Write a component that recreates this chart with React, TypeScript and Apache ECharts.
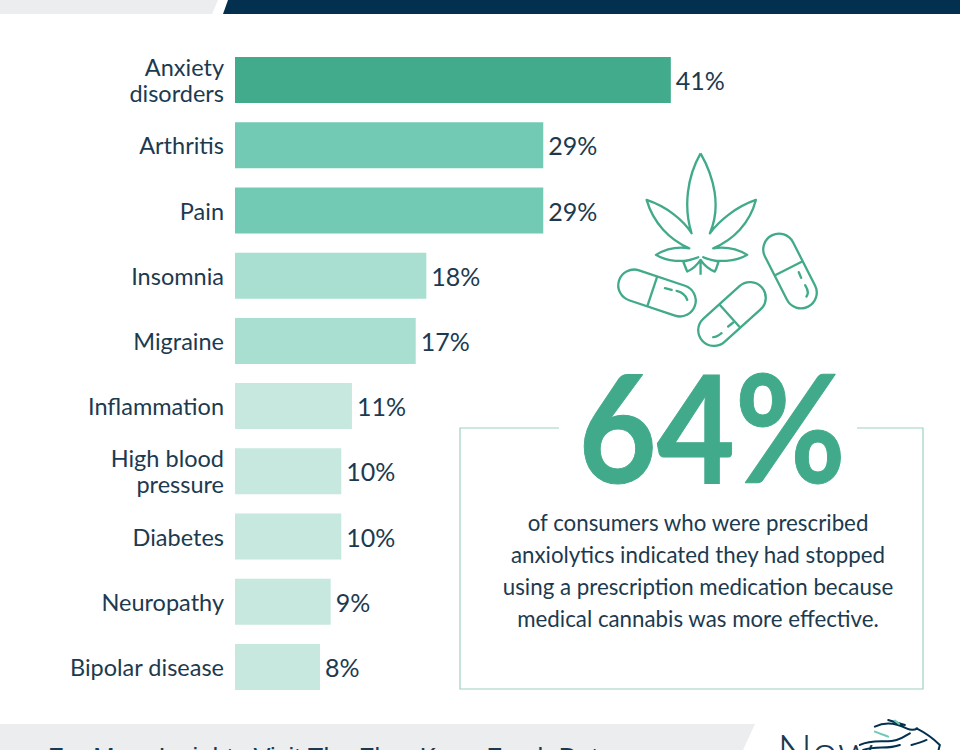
import React, { useEffect, useRef } from "react";
import * as echarts from "echarts";

const categories = ["Anxiety\ndisorders", "Arthritis", "Pain", "Insomnia", "Migraine", "Inflammation", "High blood\npressure", "Diabetes", "Neuropathy", "Bipolar disease"];
const values = [41, 29, 29, 18, 17, 11, 10, 10, 9, 8];
const barColors = ["#41ab8b", "#72c9b4", "#72c9b4", "#a9dfd0", "#a9dfd0", "#c6e8df", "#c6e8df", "#c6e8df", "#c6e8df", "#c6e8df"];
const headline = "64%";
const blurb = ["of consumers who were prescribed", "anxiolytics indicated they had stopped", "using a prescription medication because", "medical cannabis was more effective."];
const footerText = "For More Insights Visit The Flow Kana Fresh Data";
const logoWord = "Now";

const NAVY = "#1c3a4f";
const GREEN = "#41aa8a";
const FONT = "Lato";

const leafD =
  "M302 40 C262 110 250 200 275 280 C250 240 200 200 140 180 C160 250 210 300 268 325 C235 320 200 325 168 345 C200 365 250 370 295 352 C280 358 265 362 250 365 C255 378 258 386 262 395 C278 388 292 375 302 360 L302 405 M302 360 C312 375 326 388 345 395 C350 386 352 378 356 365 C340 362 325 358 310 352 C350 370 410 365 442 345 C410 325 375 320 340 325 C400 300 450 250 468 180 C410 200 360 240 330 280 C365 200 342 110 302 40";
const dashD =
  "M195 445 L215 450 M230 453 C245 457 258 465 262 480 M340 592 C350 592 358 586 365 580 M385 560 L400 548 M597 397 L604 414 M616 436 C625 450 628 460 620 470";
const horseD =
  "M470 55 C490 65 515 80 540 105 L535 125 M345 50 C375 35 410 40 440 55 C455 62 465 60 472 55 M300 105 C340 85 380 100 410 90 C430 85 440 75 450 70 M310 120 C350 105 380 120 420 105 M385 30 C400 35 420 40 435 45 M455 105 C475 100 490 95 500 90";
const horseAccentD = "M345 65 C360 72 375 75 385 80 M405 32 L418 42";
echarts.graphic.registerShape("leafIcon", echarts.graphic.extendPath(leafD, {}));
echarts.graphic.registerShape("dashIcon", echarts.graphic.extendPath(dashD, {}));
echarts.graphic.registerShape("horseIcon", echarts.graphic.extendPath(horseD, {}));
echarts.graphic.registerShape("horseAccent", echarts.graphic.extendPath(horseAccentD, {}));

function pill(cx: number, cy: number, angleDeg: number, dividerOffset: number) {
  const L = 80, W = 31.5;
  return {
    type: "group", x: cx, y: cy, rotation: (angleDeg * Math.PI) / 180,
    children: [
      { type: "rect", shape: { x: -L / 2, y: -W / 2, width: L, height: W, r: W / 2 }, style: { fill: "none", stroke: GREEN, lineWidth: 2.3 } },
      { type: "line", shape: { x1: dividerOffset, y1: -W / 2, x2: dividerOffset, y2: W / 2 }, style: { stroke: GREEN, lineWidth: 2.3 } },
    ],
  };
}

export default function App() {
  const ref = useRef<HTMLDivElement>(null);
  useEffect(() => {
    const chart = echarts.init(ref.current!, null, { renderer: "svg" });
    chart.setOption({
      animation: false,
      backgroundColor: "#ffffff",
      grid: { left: 235, top: 47.5, width: 531.5, height: 652, containLabel: false },
      xAxis: { type: "value", min: 0, max: 50, show: false },
      yAxis: {
        type: "category", inverse: true, data: categories,
        axisLine: { show: false }, axisTick: { show: false },
        axisLabel: { color: NAVY, fontFamily: FONT, fontSize: 23.5, lineHeight: 26, margin: 11, align: "right" },
      },
      series: [{
        type: "bar", barWidth: 46,
        data: values.map((v, i) => ({ value: v, itemStyle: { color: barColors[i] } })),
        label: { show: true, position: "right", distance: 5, formatter: "{c}%", color: NAVY, fontFamily: FONT, fontSize: 25 },
      }],
      graphic: [
        { type: "polygon", shape: { points: [[0, 0], [218, 0], [212, 14], [0, 14]] }, style: { fill: "#ebedee" } },
        { type: "polygon", shape: { points: [[228, 0], [960, 0], [960, 14], [223, 14]] }, style: { fill: "#03304f" } },
        { type: "polygon", shape: { points: [[0, 724], [755, 724], [743, 750], [0, 750]] }, style: { fill: "#ebedee" } },
        { type: "text", x: 48, y: 770, style: { text: footerText, fill: NAVY, fontFamily: "Liberation Sans", fontSize: 25.5, verticalAlign: "bottom" } },
        { type: "polyline", shape: { points: [[559, 428], [460, 428], [460, 689], [923, 689], [923, 428], [857, 428]] }, style: { fill: "none", stroke: "#9fd0c4", lineWidth: 1.2 } },
        { type: "text", x: 712, y: 425, scaleX: 0.9, style: { text: headline, fill: GREEN, stroke: GREEN, lineWidth: 1, lineJoin: "round", fontFamily: FONT, fontWeight: 700, fontSize: 150, align: "center", verticalAlign: "middle" } },
        ...blurb.map((t, i) => ({ type: "text", x: 698, y: 522 + i * 32, style: { text: t, fill: NAVY, fontFamily: FONT, fontSize: 22.3, align: "center", verticalAlign: "middle" } })),
        { type: "leafIcon", x: 600, y: 140, scaleX: 1 / 3, scaleY: 1 / 3, style: { fill: "none", stroke: GREEN, lineWidth: 7, lineJoin: "round" } },
        { type: "dashIcon", x: 600, y: 140, scaleX: 1 / 3, scaleY: 1 / 3, style: { fill: "none", stroke: GREEN, lineWidth: 7, lineCap: "round" } },
        pill(657, 293, -18.5, -5),
        pill(732, 314, 42, -3),
        pill(790, 271, -63, -3),
        { type: "text", x: 777, y: 774, style: { text: logoWord, fill: NAVY, fontFamily: FONT, fontWeight: 300, fontSize: 47, verticalAlign: "bottom" } },
        { type: "horseIcon", x: 760, y: 710, scaleX: 1 / 3, scaleY: 1 / 3, style: { fill: "none", stroke: "#03304f", lineWidth: 6, lineCap: "round" } },
        { type: "horseAccent", x: 760, y: 710, scaleX: 1 / 3, scaleY: 1 / 3, style: { fill: "none", stroke: "#72c9b4", lineWidth: 6, lineCap: "round" } },
      ],
    });
    return () => chart.dispose();
  }, []);
  return <div ref={ref} style={{ position: "absolute", left: 0, top: 0, width: 960, height: 750, overflow: "hidden" }} />;
}
